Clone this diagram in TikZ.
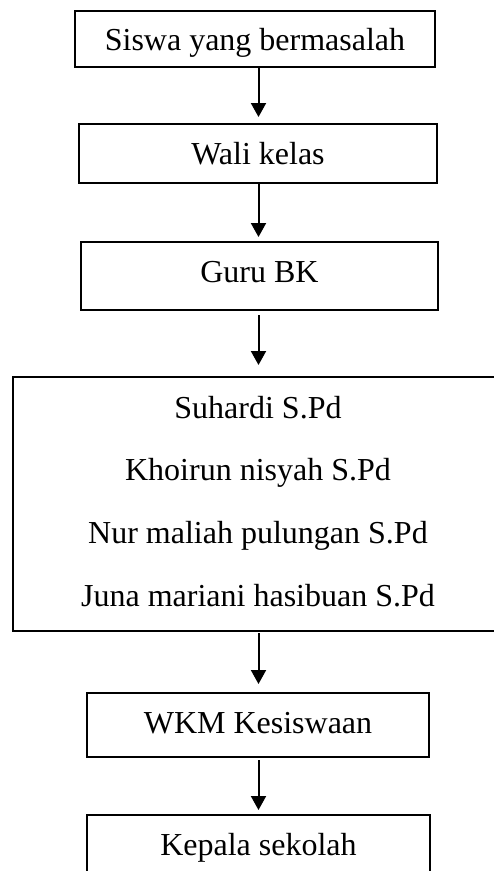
\documentclass[tikz,border=0pt]{standalone}
\usepackage{fontspec}
\setmainfont{Liberation Serif}
\usetikzlibrary{arrows.meta}
\begin{document}
\begin{tikzpicture}[x=1pt,y=-1pt,
  box/.style={draw, line width=2pt, inner sep=0pt, font=\fontsize{32}{38}\selectfont},
  arr/.style={line width=2pt, -{Triangle[length=14pt,width=15pt]}}]
\useasboundingbox (0,0) rectangle (494,871);
\clip (0,0) rectangle (494,871);
\coordinate (ax) at (258.5,0);
\node[box, minimum width=360pt, minimum height=56pt, text height=22pt, text depth=0pt] (b1) at (255,39) {Siswa yang bermasalah};
\node[box, minimum width=358pt, minimum height=59pt, text height=21pt, text depth=0pt] (b2) at (258,153.5) {Wali kelas};
\node[box, minimum width=357pt, minimum height=68pt, text height=12pt, text depth=0pt] (b3) at (259.5,276) {Guru BK};
\node[box, minimum width=490pt, minimum height=254pt, align=center, text depth=6pt, font=\fontsize{32}{62.7}\selectfont] (b4) at (258,504) {Suhardi S.Pd\\Khoirun nisyah S.Pd\\Nur maliah pulungan S.Pd\\Juna mariani hasibuan S.Pd};
\node[box, minimum width=342pt, minimum height=64pt, text height=16pt, text depth=0pt] (b5) at (258,725) {WKM Kesiswaan};
\node[box, minimum width=343pt, minimum height=64pt, text height=16pt, text depth=0pt] (b6) at (258.5,847) {Kepala sekolah};
\draw[arr, shorten >=6pt] (b1.south -| ax) -- (b2.north -| ax);
\draw[arr, shorten >=4pt] (b2.south -| ax) -- (b3.north -| ax);
\draw[arr, shorten <=4pt, shorten >=11pt] (b3.south -| ax) -- (b4.north -| ax);
\draw[arr, shorten <=1pt, shorten >=8pt] (b4.south -| ax) -- (b5.north -| ax);
\draw[arr, shorten <=2pt, shorten >=4pt] (b5.south -| ax) -- (b6.north -| ax);
\end{tikzpicture}
\end{document}
